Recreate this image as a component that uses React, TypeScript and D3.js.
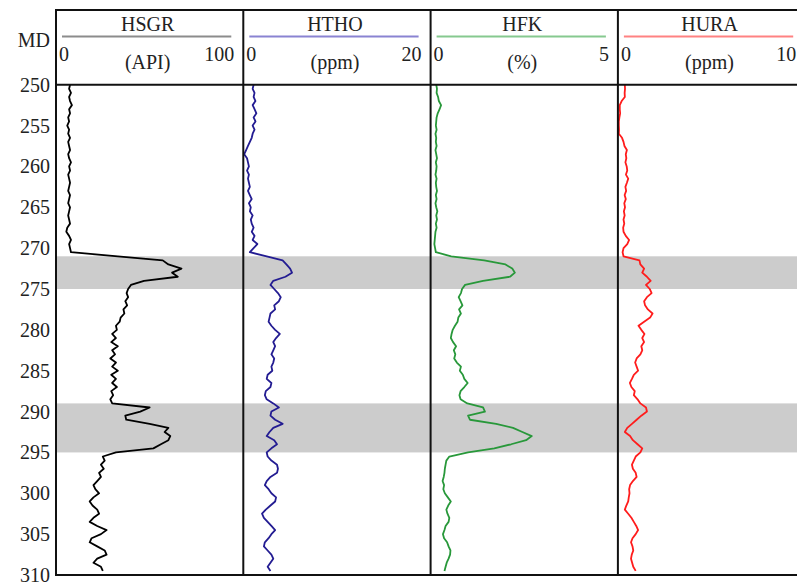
import React from 'react';
import * as d3 from 'd3';

// depth axis (ft), sampled every half foot from 250 to 309.5
const depths = d3.range(250, 310, 0.5);
const depthTicks = [250, 255, 260, 265, 270, 275, 280, 285, 290, 295, 300, 305, 310];

const hsgr = [
  7.5, 7, 8, 7, 7.5, 8.5, 7, 7.5, 6.5, 7,
  6, 7, 6.5, 7.5, 6.5, 7, 7.5, 6.5, 7, 8,
  7, 7.5, 6.5, 7, 7.5, 7, 6.5, 7.5, 7, 6.5,
  7.5, 7, 6.5, 7, 7.5, 6, 5.5, 7, 8, 7,
  7.5, 8, 33, 57, 60, 67, 62, 65, 47, 40,
  38.5, 37.7, 38.5, 37, 38, 36, 36.5, 34.5, 34, 32,
  32.5, 30, 32, 29.5, 33, 30, 31.5, 29, 32, 30,
  33, 29.5, 32, 30, 32.5, 29.5, 30.5, 29, 30, 50,
  45, 37, 37.5, 50, 60, 58, 61, 60, 56, 52,
  32, 25, 26, 24, 25.5, 23, 24, 22, 20, 21,
  23, 20, 18, 19.5, 22, 23, 20, 18, 22, 27,
  24, 19, 18, 22, 26, 27, 22, 20, 24, 25,
];

const htho = [
  1.1, 1.0, 1.2, 1.1, 1.3, 1.0, 1.2, 1.4, 1.1, 1.3,
  1.0, 1.2, 1.0, 0.9, 0.7, 0.5, 0.3, 0.1, 0.4, 0.5,
  0.6, 0.4, 0.6, 0.5, 0.6, 0.7, 0.5, 0.7, 0.9, 0.6,
  0.8, 0.7, 1.0, 0.8, 0.9, 1.1, 0.9, 1.2, 1.0, 1.5,
  1.1, 0.7, 2.5, 4.2, 4.6, 5.0, 5.2, 4.5, 3.2, 2.9,
  3.3, 3.7, 4.0, 3.8, 3.3, 3.4, 2.9, 2.8, 2.7, 3.0,
  3.4, 3.9, 3.5, 3.2, 3.4, 3.2, 3.0, 3.3, 3.2, 3.0,
  3.1, 2.6, 2.5, 3.0, 2.9, 2.4, 2.3, 2.5, 3.2, 3.8,
  3.0, 2.9, 3.4, 4.2, 3.2, 2.8, 2.5, 3.3, 3.6, 3.0,
  2.5, 2.6, 3.0, 3.6, 3.7, 3.6, 2.9, 2.5, 2.3, 2.7,
  3.0, 3.5, 3.4, 2.9, 2.4, 2.0, 2.2, 2.6, 3.0, 3.4,
  3.0, 2.7, 2.3, 2.2, 2.6, 3.0, 3.2, 2.9, 2.6, 2.9,
];

const hfk = [
  0.15, 0.17, 0.16, 0.2, 0.22, 0.28, 0.24, 0.19, 0.16, 0.15,
  0.14, 0.16, 0.13, 0.15, 0.14, 0.16, 0.13, 0.15, 0.17, 0.14,
  0.16, 0.15, 0.13, 0.16, 0.14, 0.15, 0.17, 0.14, 0.16, 0.13,
  0.15, 0.18, 0.15, 0.17, 0.14, 0.16, 0.13, 0.12, 0.11, 0.1,
  0.12, 0.14, 0.55, 1.43, 2.0, 2.18, 2.25, 2.12, 1.4, 0.92,
  0.84, 0.81, 0.75, 0.8, 0.85, 0.76, 0.81, 0.74, 0.72, 0.65,
  0.59, 0.56, 0.54, 0.6, 0.68, 0.62, 0.66, 0.63, 0.7, 0.81,
  0.78, 0.86, 0.9, 0.99, 0.9, 0.8, 0.77, 0.8, 0.98, 1.4,
  1.45, 1.0, 1.05, 1.75, 2.2, 2.45, 2.7, 2.55, 2.15, 1.7,
  1.0, 0.5, 0.42, 0.4, 0.38, 0.37, 0.35, 0.32, 0.36, 0.34,
  0.38, 0.46, 0.54, 0.47, 0.42, 0.45, 0.5, 0.48, 0.4, 0.37,
  0.33, 0.36, 0.44, 0.48, 0.53, 0.52, 0.48, 0.43, 0.4, 0.37,
];

const hura = [
  0.37, 0.38, 0.36, 0.37, 0.2, 0.1, 0.1, 0.12, 0.08, 0.05,
  0.05, 0.06, 0.05, 0.22, 0.3, 0.35, 0.48, 0.42, 0.45, 0.4,
  0.47, 0.5, 0.43, 0.55, 0.48, 0.4, 0.44, 0.36, 0.42, 0.34,
  0.38, 0.32, 0.36, 0.3, 0.34, 0.28, 0.3, 0.42, 0.6, 0.5,
  0.3, 0.25, 0.3, 1.15, 1.2, 1.4, 1.3, 1.55, 1.75, 1.5,
  1.7, 1.8, 1.55, 1.4, 1.45, 1.6, 1.85, 1.72, 1.4, 1.1,
  1.25, 1.42, 1.3, 1.4, 1.25, 1.3, 1.2, 1.0, 0.92, 1.0,
  1.08, 0.85, 0.75, 0.64, 0.72, 0.9, 0.85, 1.05, 1.2, 1.5,
  1.55, 1.25, 1.0, 0.75, 0.5, 0.37, 0.65, 0.8, 1.05, 1.3,
  1.2, 0.95, 0.85, 0.75, 0.8, 0.95, 1.0, 0.8, 0.65, 0.6,
  0.62, 0.58, 0.55, 0.45, 0.37, 0.55, 0.72, 0.85, 0.98, 1.08,
  0.95, 0.78, 0.7, 0.78, 0.82, 0.74, 0.7, 0.76, 0.82, 0.95,
];

// shaded intervals (ft)
const zones = [[271, 275], [289, 295]];

const tracks = [
  { name: 'HSGR', unit: '(API)', max: 100, values: hsgr, head: '#8c8c8c', color: '#000000' },
  { name: 'HTHO', unit: '(ppm)', max: 20, values: htho, head: '#8a83d2', color: '#231c92' },
  { name: 'HFK', unit: '(%)', max: 5, values: hfk, head: '#86c98f', color: '#28983a' },
  { name: 'HURA', unit: '(ppm)', max: 10, values: hura, head: '#ff8282', color: '#ff1c1c' },
];

const W = 797;
const H = 582;
const left = 56;
const trackW = 187.3;
const top = 10;
const headBottom = 84.7;
const bottom = 575;
const txt: React.CSSProperties = {
  fontFamily: "'Times New Roman', Times, 'Liberation Serif', 'DejaVu Serif', serif",
  fontSize: 20,
};

export default function App() {
  const y = d3.scaleLinear().domain([250, 310]).range([headBottom, bottom]);

  return (
    <svg width={W} height={H} style={{ position: 'absolute', left: 0, top: 0, background: '#fff' }}>
      {/* shaded zones */}
      {zones.map(([a, b], i) => (
        <rect key={i} x={left} y={y(a)} width={W - left} height={y(b) - y(a)} fill="#cccccc" />
      ))}

      {tracks.map((t, i) => {
        const tl = left + i * trackW;
        const x = d3.scaleLinear().domain([0, t.max]).range([tl, tl + trackW]);
        const line = d3.line<number>()
          .x(d => x(d))
          .y((d, j) => y(depths[j]));
        return (
          <g key={t.name}>
            <text x={tl + trackW / 2 - 2} y={31} style={txt} textAnchor="middle" fill="#222">{t.name}</text>
            <line x1={tl + 6} x2={tl + trackW - 12} y1={36.5} y2={36.5} stroke={t.head} strokeWidth={2.2} />
            <text x={tl + 3} y={61} style={txt} fill="#222">0</text>
            <text x={tl + trackW - 9} y={61} style={txt} textAnchor="end" fill="#222">{t.max}</text>
            <text x={tl + trackW / 2 - 2} y={69} style={txt} textAnchor="middle" fill="#222">{t.unit}</text>
            <path d={line(t.values) ?? ''} fill="none" stroke={t.color} strokeWidth={1.8} strokeLinejoin="round" />
            <line x1={tl} x2={tl} y1={top} y2={bottom} stroke="#111" strokeWidth={2} />
          </g>
        );
      })}

      {/* frame */}
      <line x1={left - 1} x2={W} y1={top} y2={top} stroke="#111" strokeWidth={2} />
      <line x1={left - 1} x2={W} y1={headBottom} y2={headBottom} stroke="#111" strokeWidth={2} />
      <line x1={left - 1} x2={W} y1={bottom} y2={bottom} stroke="#111" strokeWidth={2} />

      {/* depth labels */}
      <text x={50} y={47} style={txt} textAnchor="end" fill="#222">MD</text>
      {depthTicks.map(d => (
        <text key={d} x={50} y={y(d)} dy="0.35em" style={txt} textAnchor="end" fill="#222">{d}</text>
      ))}
    </svg>
  );
}
